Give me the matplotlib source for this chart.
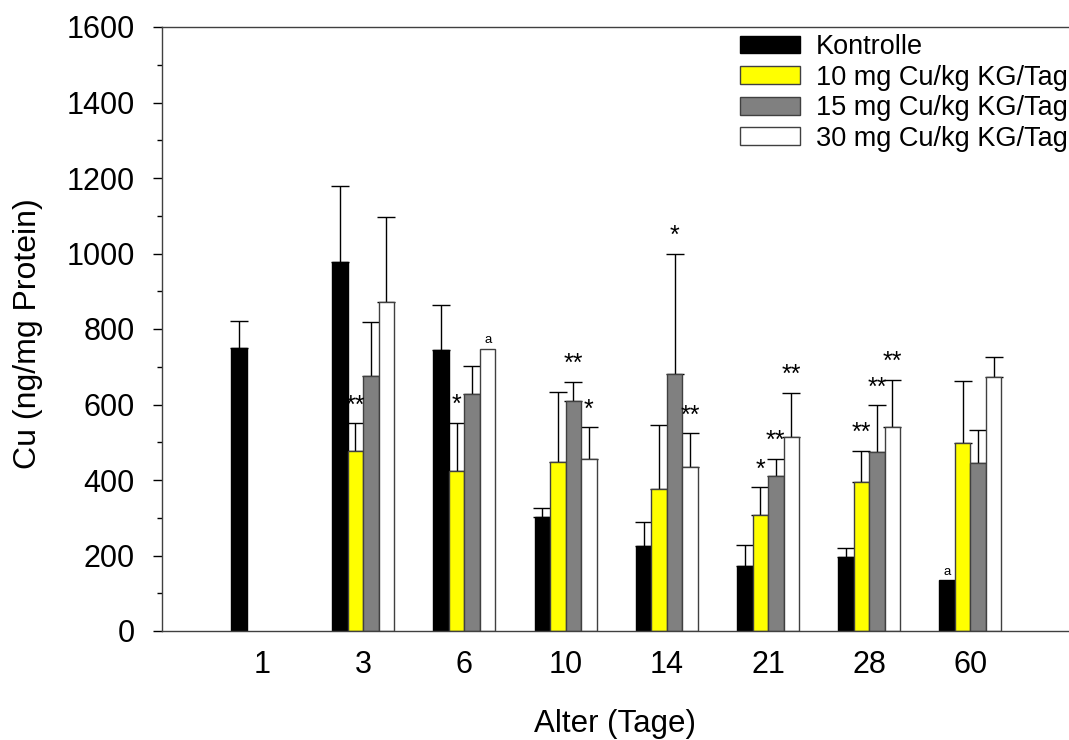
import numpy as np
import matplotlib.pyplot as plt
from matplotlib.ticker import MultipleLocator

plt.rcParams['font.family'] = ['Liberation Sans', 'DejaVu Sans']

# Cu content per age group (mean and upper SD)
ages = ['1', '3', '6', '10', '14', '21', '28', '60']
series = ['Kontrolle', '10 mg Cu/kg KG/Tag', '15 mg Cu/kg KG/Tag', '30 mg Cu/kg KG/Tag']

kontrolle = [750, 978, 744, 301, 224, 172, 195, 134]
kontrolle_sd = [70, 200, 120, 25, 65, 55, 25, 0]
cu10 = [np.nan, 476, 425, 448, 375, 306, 395, 497]
cu10_sd = [0, 74, 127, 186, 172, 75, 83, 164]
cu15 = [np.nan, 675, 627, 608, 682, 410, 475, 444]
cu15_sd = [0, 144, 76, 52, 318, 46, 123, 88]
cu30 = [np.nan, 872, 748, 456, 435, 513, 540, 672]
cu30_sd = [0, 225, 0, 84, 89, 118, 125, 55]

# significance marks: (age index, series index, label)
marks = [(1, 1, '**'), (2, 1, '*'), (2, 3, 'a'), (3, 2, '**'), (3, 3, '*'),
         (4, 2, '*'), (4, 3, '**'), (5, 1, '*'), (5, 2, '**'), (5, 3, '**'),
         (6, 1, '**'), (6, 2, '**'), (6, 3, '**'), (7, 0, 'a')]

means = [kontrolle, cu10, cu15, cu30]
sds = [kontrolle_sd, cu10_sd, cu15_sd, cu30_sd]
colors = ['black', '#ffff00', '#808080', 'white']
edges = ['black', '#404040', '#404040', '#404040']

fig = plt.figure(figsize=(10.69, 7.40), dpi=100)
ax = fig.add_axes([162 / 1069, 109 / 740, 907 / 1069, 604 / 740])

x = np.arange(len(ages))
w = 0.153
for i in range(4):
    pos = x + (i - 1.5) * w
    m = np.array(means[i], dtype=float)
    sd = np.array(sds[i], dtype=float)
    has = sd > 0  # only draw error bars where an SD was given
    ax.errorbar(pos[has], m[has], yerr=[np.zeros(has.sum()), sd[has]], fmt='none',
                ecolor='black', elinewidth=1, capsize=6.3, capthick=1, zorder=1)
    ax.bar(pos, m, width=w, color=colors[i], edgecolor=edges[i], linewidth=1,
           label=series[i], zorder=2)

for g, s, txt in marks:
    top = means[s][g] + sds[s][g]
    px = x[g] + (s - 1.5) * w
    if txt == 'a':
        ax.text(px, top + 23, txt, ha='center', va='center', fontsize=9.5)
    else:
        ax.text(px, top + 47, txt, ha='center', va='center', fontsize=18)

ax.set_xlim(-0.988, 7.974)
ax.set_ylim(0, 1600)
ax.set_xticks(x, ages)
ax.yaxis.set_major_locator(MultipleLocator(200))
ax.yaxis.set_minor_locator(MultipleLocator(100))
ax.tick_params(axis='x', length=0, pad=14, labelsize=22)
ax.tick_params(axis='y', which='major', direction='out', length=6.5, width=1, pad=13, labelsize=22)
ax.tick_params(axis='y', which='minor', direction='out', length=3.6, width=1)

ax.spines['right'].set_visible(False)
for sp in ['left', 'top', 'bottom']:
    ax.spines[sp].set_color('#404040')
    ax.spines[sp].set_linewidth(1)

ax.set_ylabel('Cu (ng/mg Protein)', fontsize=23)
ax.yaxis.label.set_va('center')
ax.yaxis.set_label_coords(-0.1477, 0.4917)
ax.set_xlabel('Alter (Tage)', fontsize=22.5)
ax.xaxis.label.set_va('baseline')
ax.xaxis.set_label_coords(0.5, -0.1672)

ax.legend(loc='upper left', bbox_to_anchor=(740 / 1069, 1 - 34 / 740),
          bbox_transform=fig.transFigure, frameon=False, fontsize=19.5,
          handlelength=2.22, handleheight=0.63, handletextpad=0.59,
          labelspacing=0.17, borderpad=0, borderaxespad=0)

fig.savefig('out.png', dpi=100)
